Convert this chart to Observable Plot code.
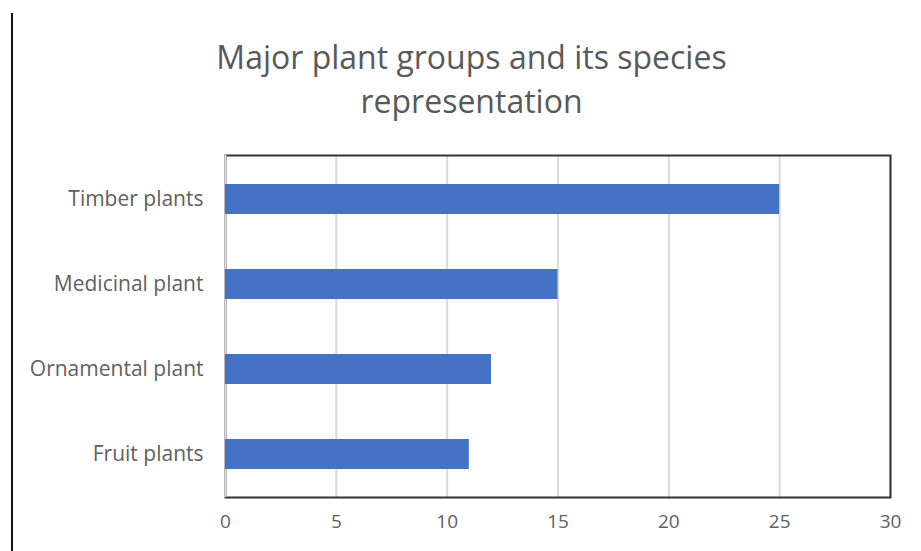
<!DOCTYPE html>
<html>
<head>
<meta charset="utf-8">
<script src="https://cdn.jsdelivr.net/npm/d3@7"></script>
<script src="https://cdn.jsdelivr.net/npm/@observablehq/plot@0.6"></script>
<style>
  html, body { margin: 0; padding: 0; background: #fff; }
  #wrap { position: relative; width: 921px; height: 551px; overflow: hidden; font-family: "Open Sans", sans-serif; }
  #edge { position: absolute; left: 11px; top: 13px; width: 2px; height: 538px; background: #111; }
  #title { height: 140px; box-sizing: border-box; padding-top: 35px; padding-left: 22px; text-align: center; font-size: 32px; line-height: 44px; color: #595959; }
  #chart svg { display: block; }
</style>
</head>
<body>
<div id="wrap">
  <div id="edge"></div>
  <div id="title">Major plant groups and its species<br>representation</div>
  <div id="chart"></div>
</div>
<script>
const categories = ["Timber plants", "Medicinal plant", "Ornamental plant", "Fruit plants"];
const values = [25, 15, 12, 11];
const xTicks = [0, 5, 10, 15, 20, 25, 30];

const data = categories.map((c, i) => ({category: c, value: values[i]}));

const chart = Plot.plot({
  width: 921,
  height: 411,
  marginLeft: 225,
  marginRight: 31,
  marginTop: 15,
  marginBottom: 54,
  style: {fontFamily: "Open Sans, sans-serif", fontSize: "19px", color: "#595959", background: "#fff"},
  x: {domain: [0, 30], ticks: xTicks, label: null, tickSize: 0, tickPadding: 17},
  y: {domain: categories, label: null, tickSize: 0, tickPadding: 22, paddingInner: 0.65, paddingOuter: 0.325},
  marks: [
    Plot.gridX(xTicks.slice(1), {stroke: "#d9d9d9", strokeOpacity: 1, strokeWidth: 2}),
    Plot.frame({stroke: "#333", strokeWidth: 2}),
    Plot.ruleX([0], {stroke: "#d9d9d9", strokeWidth: 2}),
    Plot.barX(data, {x: "value", y: "category", fill: "#4472C4"}),
    Plot.axisX({ticks: xTicks, tickSize: 0, tickPadding: 17, fill: "#5f5f5f", fontSize: 19}),
    Plot.axisY({tickSize: 0, tickPadding: 22, fill: "#5f5f5f", fontSize: 21})
  ]
});
document.getElementById("chart").appendChild(chart);
</script>
</body>
</html>
